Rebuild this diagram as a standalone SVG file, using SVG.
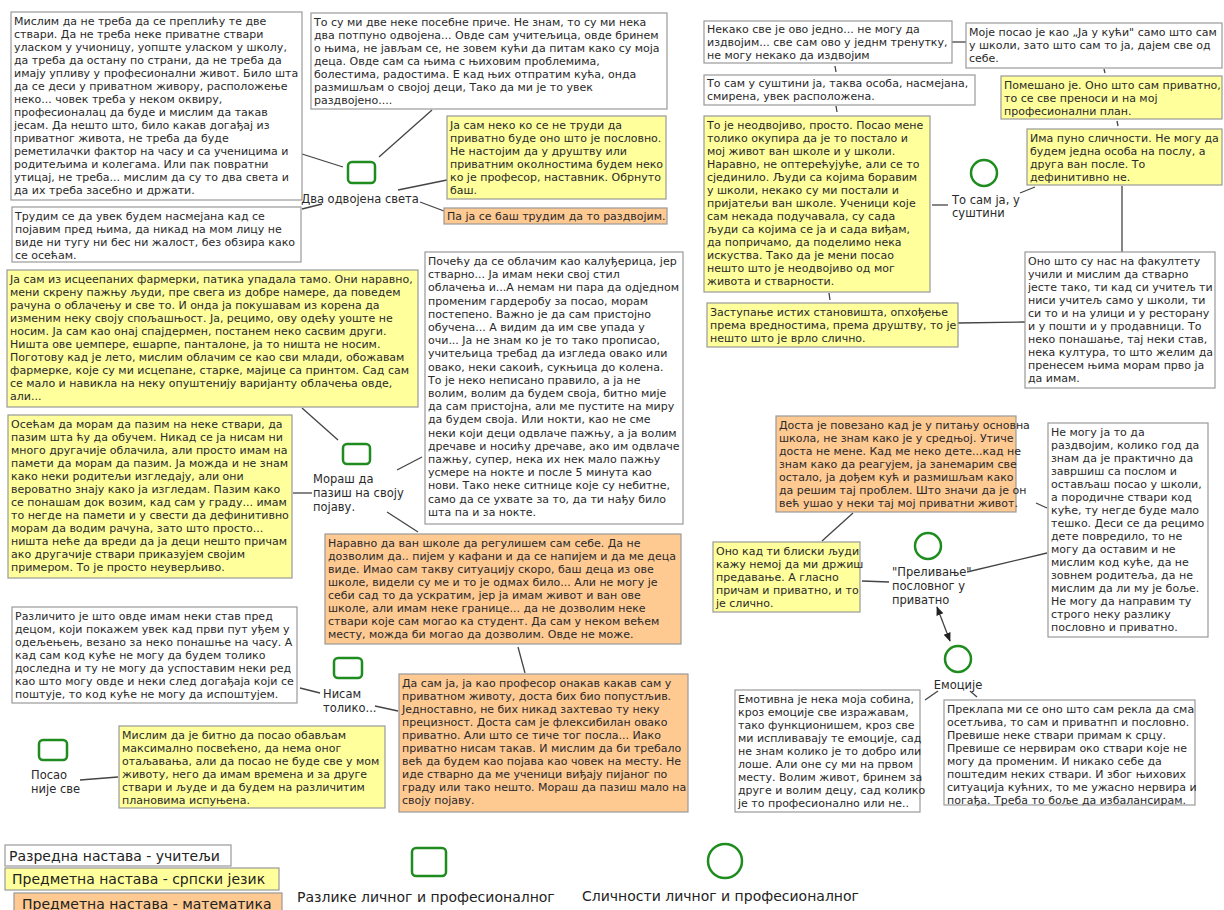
<svg xmlns="http://www.w3.org/2000/svg" width="1224" height="910" viewBox="0 0 1224 910">
<style>
.w{fill:#fff;stroke:#999;stroke-width:1.2}
.y{fill:#ffff9c;stroke:#999;stroke-width:1.2}
.o{fill:#ffc992;stroke:#999;stroke-width:1.2}
.t{font-family:"DejaVu Sans","Noto Sans",sans-serif;font-size:11px;fill:#2a2a2a}
.lb{font-family:"DejaVu Sans","Noto Sans",sans-serif;font-size:11.5px;fill:#2a2a2a}
.lg{font-family:"DejaVu Sans","Noto Sans",sans-serif;font-size:14px;fill:#222}
.c{stroke:#444;stroke-width:1.3;fill:none}
.g{fill:#fff;stroke:#1e8c1e;stroke-width:2.5}
</style>
<defs>
<marker id="ah" viewBox="0 0 10 10" refX="9" refY="5" markerWidth="7" markerHeight="7" orient="auto-start-reverse"><path d="M0,1 L10,5 L0,9 z" fill="#222"/></marker>
</defs>
<g id="connectors">
<line class="c" x1="302" y1="154" x2="343" y2="167"/>
<line class="c" x1="379" y1="157" x2="432" y2="110"/>
<line class="c" x1="398" y1="190" x2="447" y2="180"/>
<line class="c" x1="420" y1="202" x2="444" y2="211"/>
<line class="c" x1="322" y1="204" x2="302" y2="209"/>
<line class="c" x1="952" y1="42" x2="966" y2="42"/>
<line class="c" x1="835" y1="66" x2="836" y2="72"/>
<line class="c" x1="836" y1="106" x2="837" y2="112"/>
<line class="c" x1="829" y1="293" x2="830" y2="300"/>
<line class="c" x1="958" y1="323" x2="1025" y2="322"/>
<line class="c" x1="1104" y1="69" x2="1105" y2="73"/>
<line class="c" x1="1117" y1="121" x2="1118" y2="126"/>
<line class="c" x1="932" y1="205" x2="948" y2="205"/>
<line class="c" x1="1020" y1="193" x2="1035" y2="187"/>
<line class="c" x1="1122" y1="186" x2="1122" y2="252"/>
<line class="c" x1="302" y1="408" x2="338" y2="440"/>
<line class="c" x1="293" y1="493" x2="312" y2="493"/>
<line class="c" x1="397" y1="470" x2="422" y2="457"/>
<line class="c" x1="387" y1="512" x2="418" y2="532"/>
<line class="c" x1="518" y1="647" x2="525" y2="673"/>
<line class="c" x1="300" y1="688" x2="320" y2="693"/>
<line class="c" x1="375" y1="706" x2="398" y2="711"/>
<line class="c" x1="80" y1="780" x2="118" y2="777"/>
<line class="c" x1="853" y1="513" x2="822" y2="541"/>
<line class="c" x1="862" y1="581" x2="889" y2="582"/>
<line class="c" x1="967" y1="572" x2="1047" y2="553"/>
<line class="c" x1="1036" y1="503" x2="1047" y2="508"/>
<line class="c" x1="937" y1="607" x2="950" y2="641" marker-start="url(#ah)" marker-end="url(#ah)"/>
<line class="c" x1="938" y1="691" x2="925" y2="700"/>
<line class="c" x1="970" y1="691" x2="977" y2="697"/>
</g>
<g id="node-dva-sveta"><rect class="g" x="348" y="162" width="27" height="21" rx="4"/><text class="lb" x="360" y="203" text-anchor="middle">Два одвојена света</text></g>
<g id="node-moras"><rect class="g" x="343" y="444" width="27" height="20" rx="4"/><text class="lb" x="313" y="483"><tspan x="313">Мораш да</tspan><tspan x="313" dy="14">пазиш на своју</tspan><tspan x="313" dy="14">појаву.</tspan></text></g>
<g id="node-nisam"><rect class="g" x="334" y="658" width="28" height="20" rx="4"/><text class="lb" x="323" y="698"><tspan x="323">Нисам</tspan><tspan x="323" dy="14">толико...</tspan></text></g>
<g id="node-posao"><rect class="g" x="39" y="740" width="28" height="20" rx="4"/><text class="lb" x="31" y="779"><tspan x="31">Посао</tspan><tspan x="31" dy="14">није све</tspan></text></g>
<g id="node-to-sam-ja"><circle class="g" cx="984" cy="173" r="13"/><text class="lb" x="952" y="204"><tspan x="952">То сам ја, у</tspan><tspan x="952" dy="13">суштини</tspan></text></g>
<g id="node-prelivanje"><circle class="g" cx="928" cy="546" r="13"/><text class="lb" x="892" y="576"><tspan x="892">"Преливање"</tspan><tspan x="892" dy="14">пословног у</tspan><tspan x="892" dy="14">приватно</tspan></text></g>
<g id="node-emocije"><circle class="g" cx="958" cy="659" r="13"/><text class="lb" x="958" y="689" text-anchor="middle">Емоције</text></g>

<g id="box-a"><rect class="w" x="11" y="12" width="291" height="188"/><text class="t" x="14" y="25"><tspan x="14">Мислим да не треба да се преплићу те две</tspan><tspan x="14" dy="13">ствари. Да не треба неке приватне ствари</tspan><tspan x="14" dy="13">уласком у учионицу, уопште уласком у школу,</tspan><tspan x="14" dy="13">да треба да остану по страни, да не треба да</tspan><tspan x="14" dy="13">имају упливу у професионални живот. Било шта</tspan><tspan x="14" dy="13">да се деси у приватном живору, расположење</tspan><tspan x="14" dy="13">неко... човек треба у неком оквиру,</tspan><tspan x="14" dy="13">професионалац да буде и мислим да такав</tspan><tspan x="14" dy="13">јесам. Да нешто што, било какав догађај из</tspan><tspan x="14" dy="13">приватног живота, не треба да буде</tspan><tspan x="14" dy="13">реметилачки фактор на часу и са ученицима и</tspan><tspan x="14" dy="13">родитељима и колегама. Или пак повратни</tspan><tspan x="14" dy="13">утицај, не треба... мислим да су то два света и</tspan><tspan x="14" dy="13">да их треба засебно и држати.</tspan></text></g>
<g id="box-b"><rect class="w" x="12" y="207" width="289" height="55"/><text class="t" x="15" y="220"><tspan x="15">Трудим се да увек будем насмејана кад се</tspan><tspan x="15" dy="13">појавим пред њима, да никад на мом лицу не</tspan><tspan x="15" dy="13">виде ни тугу ни бес ни жалост, без обзира како</tspan><tspan x="15" dy="13">се осећам.</tspan></text></g>
<g id="box-c"><rect class="w" x="311" y="13" width="356" height="96"/><text class="t" x="314" y="26"><tspan x="314">То су ми две неке посебне приче. Не знам, то су ми нека</tspan><tspan x="314" dy="13">два потпуно одвојена... Овде сам учитељица, овде бринем</tspan><tspan x="314" dy="13">о њима, не јављам се, не зовем кући да питам како су моја</tspan><tspan x="314" dy="13">деца. Овде сам са њима с њиховим проблемима,</tspan><tspan x="314" dy="13">болестима, радостима. Е кад њих отпратим кућа, онда</tspan><tspan x="314" dy="13">размишљам о својој деци, Тако да ми је то увек</tspan><tspan x="314" dy="13">раздвојено....</tspan></text></g>
<g id="box-d"><rect class="y" x="447" y="116" width="219" height="83"/><text class="t" x="450" y="129"><tspan x="450">Ја сам неко ко се не труди да</tspan><tspan x="450" dy="13">приватно буде оно што је пословно.</tspan><tspan x="450" dy="13">Не настојим да у друштву или</tspan><tspan x="450" dy="13">приватним околностима будем неко</tspan><tspan x="450" dy="13">ко је професор, наставник. Обрнуто</tspan><tspan x="450" dy="13">баш.</tspan></text></g>
<g id="box-e"><rect class="o" x="444" y="208" width="223" height="16"/><text class="t" x="447" y="220">Па ја се баш трудим да то раздвојим.</text></g>
<g id="box-f"><rect class="w" x="704" y="21" width="248" height="42"/><text class="t" x="707" y="33"><tspan x="707">Некако све је ово једно... не могу да</tspan><tspan x="707" dy="13">издвојим... све сам ово у једнм тренутку,</tspan><tspan x="707" dy="13">не могу некако да издвојим</tspan></text></g>
<g id="box-g"><rect class="w" x="966" y="23" width="256" height="45"/><text class="t" x="969" y="36"><tspan x="969">Моје посао је као „Ја у кући"  само што сам</tspan><tspan x="969" dy="13">у школи, зато што сам то ја, дајем све од</tspan><tspan x="969" dy="13">себе.</tspan></text></g>
<g id="box-h"><rect class="w" x="704" y="75" width="271" height="30"/><text class="t" x="707" y="87"><tspan x="707">То сам у суштини ја, таква особа, насмејана,</tspan><tspan x="707" dy="13">смирена, увек расположена.</tspan></text></g>
<g id="box-i"><rect class="y" x="704" y="116" width="226" height="176"/><text class="t" x="707" y="129"><tspan x="707">То је неодвојиво, просто. Посао мене</tspan><tspan x="707" dy="13">толико окупира да је то постало и</tspan><tspan x="707" dy="13">мој живот ван школе и у школи.</tspan><tspan x="707" dy="13">Наравно, не оптерећујуће, али се то</tspan><tspan x="707" dy="13">сјединило. Људи са којима боравим</tspan><tspan x="707" dy="13">у школи, некако су ми постали и</tspan><tspan x="707" dy="13">пријатељи ван школе. Ученици које</tspan><tspan x="707" dy="13">сам некада подучавала, су сада</tspan><tspan x="707" dy="13">људи са којима се ја и сада виђам,</tspan><tspan x="707" dy="13">да попричамо, да поделимо нека</tspan><tspan x="707" dy="13">искуства. Тако да је мени посао</tspan><tspan x="707" dy="13">нешто што је неодвојиво од мог</tspan><tspan x="707" dy="13">живота и стварности.</tspan></text></g>
<g id="box-j"><rect class="y" x="707" y="303" width="251" height="44"/><text class="t" x="710" y="316"><tspan x="710">Заступање истих становишта, опхођење</tspan><tspan x="710" dy="13">према вредностима, према друштву, то је</tspan><tspan x="710" dy="13">нешто што је врло слично.</tspan></text></g>
<g id="box-k"><rect class="y" x="1001" y="76" width="221" height="43"/><text class="t" x="1004" y="89"><tspan x="1004">Помешано је. Оно што сам приватно,</tspan><tspan x="1004" dy="13">то се све преноси и на мој</tspan><tspan x="1004" dy="13">професионални план.</tspan></text></g>
<g id="box-l"><rect class="y" x="1027" y="129" width="195" height="56"/><text class="t" x="1030" y="142"><tspan x="1030">Има пуно сличности. Не могу да</tspan><tspan x="1030" dy="13">будем једна особа на послу, а</tspan><tspan x="1030" dy="13">друга ван после. То</tspan><tspan x="1030" dy="13">дефинитивно не.</tspan></text></g>
<g id="box-n"><rect class="w" x="1025" y="252" width="190" height="136"/><text class="t" x="1028" y="265"><tspan x="1028">Оно што су нас на факултету</tspan><tspan x="1028" dy="13">учили и мислим да стварно</tspan><tspan x="1028" dy="13">јесте тако, ти кад си учитељ ти</tspan><tspan x="1028" dy="13">ниси учитељ само у школи, ти</tspan><tspan x="1028" dy="13">си то и на улици и у ресторану</tspan><tspan x="1028" dy="13">и у пошти и у продавници. То</tspan><tspan x="1028" dy="13">неко понашање, тај неки став,</tspan><tspan x="1028" dy="13">нека култура, то што желим да</tspan><tspan x="1028" dy="13">пренесем њима морам прво ја</tspan><tspan x="1028" dy="13">да имам.</tspan></text></g>
<g id="box-o"><rect class="y" x="7" y="270" width="411" height="137"/><text class="t" x="10" y="283"><tspan x="10">Ја сам из исцеепаних фармерки, патика упадала тамо. Они наравно,</tspan><tspan x="10" dy="13">мени скрену пажњу људи, пре свега из добре намере, да поведем</tspan><tspan x="10" dy="13">рачуна о облачењу и све то. И онда ја покушавам из корена да</tspan><tspan x="10" dy="13">изменим неку своју спољашњост. Ја, рецимо, ову одећу уоште не</tspan><tspan x="10" dy="13">носим. Ја сам као онај спајдермен, постанем неко сасвим други.</tspan><tspan x="10" dy="13">Ништа ове џемпере, ешарпе, панталоне, ја то ништа не носим.</tspan><tspan x="10" dy="13">Поготову кад је лето, мислим облачим се као сви млади, обожавам</tspan><tspan x="10" dy="13">фармерке, које су ми исцепане, старке, мајице са принтом. Сад сам</tspan><tspan x="10" dy="13">се мало и навикла на неку опуштенију варијанту облачења овде,</tspan><tspan x="10" dy="13">али...</tspan></text></g>
<g id="box-p"><rect class="y" x="8" y="415" width="284" height="163"/><text class="t" x="11" y="428"><tspan x="11">Осећам да морам да пазим на неке ствари, да</tspan><tspan x="11" dy="13">пазим шта ћу да обучем. Никад се ја нисам ни</tspan><tspan x="11" dy="13">много другачије облачила, али просто имам на</tspan><tspan x="11" dy="13">памети да морам да пазим. Ја можда и не знам</tspan><tspan x="11" dy="13">како неки родитељи изгледају, али они</tspan><tspan x="11" dy="13">вероватно знају како ја изгледам. Пазим како</tspan><tspan x="11" dy="13">се понашам док возим, кад сам у граду... имам</tspan><tspan x="11" dy="13">то негде на памети и у свести да дефинитивно</tspan><tspan x="11" dy="13">морам да водим рачуна, зато што просто...</tspan><tspan x="11" dy="13">ништа неће да вреди да ја деци нешто причам</tspan><tspan x="11" dy="13">ако другачије ствари приказујем својим</tspan><tspan x="11" dy="13">примером. То је просто неуверљиво.</tspan></text></g>
<g id="box-q"><rect class="w" x="425" y="252" width="258" height="272"/><text class="t" x="428" y="265"><tspan x="428">Почећу да се облачим као калуђерица, јер</tspan><tspan x="428" dy="13.2">стварно... Ја имам неки свој стил</tspan><tspan x="428" dy="13.2">облачења и...А немам ни пара да одједном</tspan><tspan x="428" dy="13.2">променим гардеробу за посао, морам</tspan><tspan x="428" dy="13.2">постепено.  Важно је да сам пристојно</tspan><tspan x="428" dy="13.2">обучена... А видим да им све упада у</tspan><tspan x="428" dy="13.2">очи... Ја не знам ко је то тако прописао,</tspan><tspan x="428" dy="13.2">учитељица требад да изгледа овако или</tspan><tspan x="428" dy="13.2">овако, неки сакоић, сукњица до колена.</tspan><tspan x="428" dy="13.2">То је неко неписано правило, а ја не</tspan><tspan x="428" dy="13.2">волим, волим да будем своја, битно мије</tspan><tspan x="428" dy="13.2">да сам пристојна, али ме пустите на миру</tspan><tspan x="428" dy="13.2">да будем своја. Или нокти, као не сме</tspan><tspan x="428" dy="13.2">неки који деци одвлаче пажњу, а ја волим</tspan><tspan x="428" dy="13.2">дречаве и носићу дречаве, ако им одвлаче</tspan><tspan x="428" dy="13.2">пажњу, супер, нека их нек мало пажњу</tspan><tspan x="428" dy="13.2">усмере на нокте и после 5 минута као</tspan><tspan x="428" dy="13.2">нови. Тако неке ситнице које су небитне,</tspan><tspan x="428" dy="13.2">само да се ухвате за то, да ти нађу било</tspan><tspan x="428" dy="13.2">шта па и за нокте.</tspan></text></g>
<g id="box-r"><rect class="o" x="325" y="534" width="356" height="110"/><text class="t" x="328" y="547"><tspan x="328">Наравно да ван школе да регулишем сам себе. Да не</tspan><tspan x="328" dy="13">дозволим да.. пијем у кафани и да се напијем и да ме деца</tspan><tspan x="328" dy="13">виде. Имао сам такву ситуацију скоро, баш деца из ове</tspan><tspan x="328" dy="13">школе, видели су ме и то је одмах било... Али не могу је</tspan><tspan x="328" dy="13">себи сад то да ускратим, јер ја имам живот и ван ове</tspan><tspan x="328" dy="13">школе, али имам неке границе... да не дозволим неке</tspan><tspan x="328" dy="13">ствари које сам могао ка студент. Да сам у неком већем</tspan><tspan x="328" dy="13">месту, можда би могао да дозволим. Овде не може.</tspan></text></g>
<g id="box-s"><rect class="o" x="399" y="674" width="289" height="138"/><text class="t" x="402" y="687"><tspan x="402">Да сам ја, ја као професор онакав какав сам у</tspan><tspan x="402" dy="13">приватном животу, доста бих био попустљив.</tspan><tspan x="402" dy="13">Једноставно, не бих никад захтевао ту неку</tspan><tspan x="402" dy="13">прецизност.   Доста сам је флексибилан овако</tspan><tspan x="402" dy="13">приватно. Али што се тиче тог посла... Иако</tspan><tspan x="402" dy="13">приватно нисам такав. И мислим да би требало</tspan><tspan x="402" dy="13">већ да будем као појава као човек на месту. Не</tspan><tspan x="402" dy="13">иде стварно да ме ученици виђају пијаног по</tspan><tspan x="402" dy="13">граду или тако нешто. Мораш да пазиш мало на</tspan><tspan x="402" dy="13">своју појаву.</tspan></text></g>
<g id="box-t"><rect class="w" x="12" y="607" width="285" height="96"/><text class="t" x="15" y="620"><tspan x="15">Различито је што овде имам неки став пред</tspan><tspan x="15" dy="13">децом, који покажем увек кад први пут уђем у</tspan><tspan x="15" dy="13">одељењењ, везано за неко понашње на часу. А</tspan><tspan x="15" dy="13">кад сам код куће не могу да будем толико</tspan><tspan x="15" dy="13">доследна и ту не могу да успоставим неки ред</tspan><tspan x="15" dy="13">као што могу овде и неки след догађаја који се</tspan><tspan x="15" dy="13">поштује, то код куће не могу да испоштујем.</tspan></text></g>
<g id="box-u"><rect class="y" x="119" y="726" width="266" height="82"/><text class="t" x="122" y="739"><tspan x="122">Мислим да је битно да посао обављам</tspan><tspan x="122" dy="13">максимално посвећено, да нема оног</tspan><tspan x="122" dy="13">отаљавања, али да посао не буде све у мом</tspan><tspan x="122" dy="13">животу, него да имам времена и за друге</tspan><tspan x="122" dy="13">ствари и људе и да будем на различитим</tspan><tspan x="122" dy="13">плановима испуњена.</tspan></text></g>
<g id="box-v"><rect class="o" x="776" y="416" width="240" height="96"/><text class="t" x="779" y="429"><tspan x="779">Доста је повезано кад је у питању основна</tspan><tspan x="779" dy="13">школа, не знам како је у средњој. Утиче</tspan><tspan x="779" dy="13">доста не мене. Кад ме неко дете...кад не</tspan><tspan x="779" dy="13">знам како да реагујем, ја занемарим све</tspan><tspan x="779" dy="13">остало, ја дођем кућ и размишљам како</tspan><tspan x="779" dy="13">да решим тај проблем. Што значи да је он</tspan><tspan x="779" dy="13">већ ушао у неки тај мој приватни живот.</tspan></text></g>
<g id="box-w"><rect class="w" x="1048" y="423" width="160" height="214"/><text class="t" x="1051" y="436"><tspan x="1051">Не могу ја то да</tspan><tspan x="1051" dy="13">раздвојим, колико год да</tspan><tspan x="1051" dy="13">знам да је практично да</tspan><tspan x="1051" dy="13">завршиш са послом и</tspan><tspan x="1051" dy="13">остављаш посао у школи,</tspan><tspan x="1051" dy="13">а породичне ствари код</tspan><tspan x="1051" dy="13">куће, ту негде буде мало</tspan><tspan x="1051" dy="13">тешко. Деси се да рецимо</tspan><tspan x="1051" dy="13">дете повредило, то не</tspan><tspan x="1051" dy="13">могу да оставим и не</tspan><tspan x="1051" dy="13">мислим код куће, да не</tspan><tspan x="1051" dy="13">зовнем родитеља, да не</tspan><tspan x="1051" dy="13">мислим да ли му је боље.</tspan><tspan x="1051" dy="13">Не могу да направим ту</tspan><tspan x="1051" dy="13">строго неку разлику</tspan><tspan x="1051" dy="13">пословно и приватно.</tspan></text></g>
<g id="box-x"><rect class="y" x="713" y="542" width="147" height="70"/><text class="t" x="716" y="555"><tspan x="716">Оно кад ти блиски људи</tspan><tspan x="716" dy="13">кажу немој да ми држиш</tspan><tspan x="716" dy="13">предавање. А гласно</tspan><tspan x="716" dy="13">причам и приватно, и то</tspan><tspan x="716" dy="13">је слично.</tspan></text></g>
<g id="box-y"><rect class="w" x="735" y="690" width="185" height="122"/><text class="t" x="738" y="703"><tspan x="738">Емотивна је нека моја собина,</tspan><tspan x="738" dy="13">кроз емоције све изражавам,</tspan><tspan x="738" dy="13">тако функционишем, кроз све</tspan><tspan x="738" dy="13">ми испливавају те емоције, сад</tspan><tspan x="738" dy="13">не знам колико је то добро или</tspan><tspan x="738" dy="13">лоше. Али оне су ми на првом</tspan><tspan x="738" dy="13">месту. Волим живот, бринем за</tspan><tspan x="738" dy="13">друге и волим децу, сад колико</tspan><tspan x="738" dy="13">је то професионално или не..</tspan></text></g>
<g id="box-z"><rect class="w" x="944" y="700" width="251" height="105"/><text class="t" x="947" y="713"><tspan x="947">Преклапа ми се оно што сам рекла да сма</tspan><tspan x="947" dy="13">осетљива, то сам и приватнп и пословно.</tspan><tspan x="947" dy="13">Превише неке ствари примам к срцу.</tspan><tspan x="947" dy="13">Превише се нервирам око ствари које не</tspan><tspan x="947" dy="13">могу да променим. И никако себе да</tspan><tspan x="947" dy="13">поштедим неких ствари. И због њихових</tspan><tspan x="947" dy="13">ситуација кућних, то ме ужасно нервира и</tspan><tspan x="947" dy="13">погађа. Треба то боље да избалансирам.</tspan></text></g>

<g id="legend">
<rect class="w" x="5" y="845" width="226" height="21"/><text class="lg" x="9" y="861">Разредна настава - учитељи</text>
<rect class="y" x="5" y="868" width="274" height="22"/><text class="lg" x="12" y="884">Предметна настава - српски језик</text>
<rect class="o" x="14" y="893" width="268" height="22"/><text class="lg" x="22" y="909">Предметна настава - математика</text>
<rect class="g" x="412" y="848" width="34" height="28" rx="4"/>
<text class="lg" x="297" y="902">Разлике личног и професионалног</text>
<circle class="g" cx="725" cy="861" r="17"/>
<text class="lg" x="582" y="901">Сличности личног и професионалног</text>
</g>
</svg>
